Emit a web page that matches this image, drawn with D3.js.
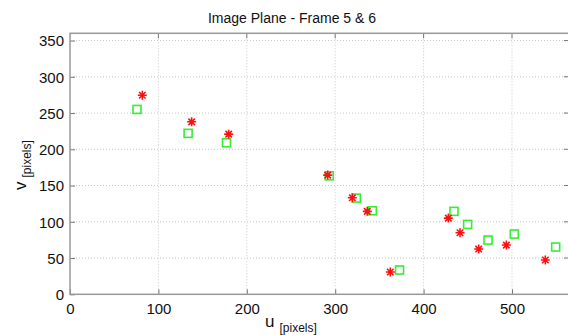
<!DOCTYPE html>
<html>
<head>
<meta charset="utf-8">
<script src="https://cdn.jsdelivr.net/npm/d3@7"></script>
<style>
    body { margin: 0; background: #fff; }
    svg { font-family: "Liberation Sans", Arial, sans-serif; }
</style>
</head>
<body>
<svg id="chart" width="568" height="335"></svg>
<script>
// frame 5 points (red asterisks)
var frame5U = [81.8, 137.6, 179.5, 291.5, 319.4, 336.3, 362.3, 428.0, 441.2, 462.3, 493.6, 537.7];
var frame5V = [274.6, 237.9, 220.9, 164.4, 133.1, 114.4, 30.7, 105.1, 84.9, 62.4, 67.9, 47.3];
// frame 6 points (green squares)
var frame6U = [75.8, 133.6, 177.0, 293.3, 323.9, 342.0, 372.8, 434.4, 449.8, 472.9, 502.6, 549.4];
var frame6V = [255.0, 222.0, 209.0, 163.4, 132.7, 115.2, 33.5, 114.4, 96.4, 74.8, 83.1, 65.2];

var xTicks = [0, 100, 200, 300, 400, 500];
var yTicks = [0, 50, 100, 150, 200, 250, 300, 350];

var svg = d3.select("#chart");

var plot = { left: 70, right: 570, top: 33.3, bottom: 294.3 };

var xScale = d3.scaleLinear()
    .domain([0, 500])
    .range([plot.left, 512]);

var yScale = d3.scaleLinear()
    .domain([0, 360])
    .range([plot.bottom, plot.top]);

// grid
var grid = svg.append("g").style("stroke", "#c8c8c8").style("stroke-dasharray", "1,2");
grid.selectAll(".gx").data(xTicks.slice(1)).enter().append("line")
    .attr("x1", function (d) { return xScale(d); })
    .attr("x2", function (d) { return xScale(d); })
    .attr("y1", plot.top).attr("y2", plot.bottom);
grid.selectAll(".gy").data(yTicks.slice(1)).enter().append("line")
    .attr("x1", plot.left).attr("x2", plot.right)
    .attr("y1", function (d) { return yScale(d); })
    .attr("y2", function (d) { return yScale(d); });

// axes, ticks inside
var xAxis = svg.append("g")
    .attr("transform", "translate(0," + plot.bottom + ")")
    .call(d3.axisBottom(xScale).tickValues(xTicks).tickSizeInner(-5).tickSizeOuter(0).tickPadding(9));
var yAxis = svg.append("g")
    .attr("transform", "translate(" + plot.left + ",0)")
    .call(d3.axisLeft(yScale).tickValues(yTicks).tickSizeInner(-5).tickSizeOuter(0).tickPadding(6));

[xAxis, yAxis].forEach(function (a) {
    a.select(".domain").remove();
    a.selectAll("line").attr("stroke", "#777");
    a.selectAll("text").attr("fill", "#111").style("font-size", "15px");
});
yAxis.selectAll("text").attr("dy", "0.36em");

// top and right ticks
svg.append("g").selectAll("line").data(xTicks.slice(1)).enter().append("line")
    .attr("x1", function (d) { return xScale(d); })
    .attr("x2", function (d) { return xScale(d); })
    .attr("y1", plot.top).attr("y2", plot.top + 5)
    .attr("stroke", "#777");
svg.append("g").selectAll("line").data(yTicks.slice(1)).enter().append("line")
    .attr("x1", plot.right - 6).attr("x2", plot.right)
    .attr("y1", function (d) { return yScale(d); })
    .attr("y2", function (d) { return yScale(d); })
    .attr("stroke", "#777");

// box
svg.append("rect")
    .attr("x", plot.left).attr("y", plot.top)
    .attr("width", plot.right - plot.left).attr("height", plot.bottom - plot.top)
    .attr("fill", "none").attr("stroke", "#999").attr("stroke-width", 1.5);

// title
svg.append("text")
    .attr("x", 292).attr("y", 23)
    .attr("text-anchor", "middle")
    .style("font-size", "14px").attr("fill", "#111")
    .text("Image Plane - Frame 5 & 6");

// axis labels
var xl = svg.append("text").attr("x", 265).attr("y", 327).attr("fill", "#111");
xl.append("tspan").style("font-size", "17px").text("u");
xl.append("tspan").attr("dx", 5).attr("dy", 5).style("font-size", "12px").text("[pixels]");

var yl = svg.append("text").attr("transform", "translate(26,190) rotate(-90)").attr("fill", "#111");
yl.append("tspan").style("font-size", "17px").text("v");
yl.append("tspan").attr("dx", 4).attr("dy", 5).style("font-size", "12px").text("[pixels]");

// frame 6 squares
var sq = 8;
svg.append("g").selectAll("rect").data(d3.range(frame6U.length)).enter().append("rect")
    .attr("x", function (i) { return xScale(frame6U[i]) - sq / 2; })
    .attr("y", function (i) { return yScale(frame6V[i]) - sq / 2; })
    .attr("width", sq).attr("height", sq)
    .attr("fill", "none").attr("stroke", "#33ee33").attr("stroke-width", 1.6);

// frame 5 asterisks
var r = 4.5, rd = r * 0.72;
var star = "M" + (-r) + ",0H" + r + "M0," + (-r) + "V" + r +
    "M" + (-rd) + "," + (-rd) + "L" + rd + "," + rd +
    "M" + (-rd) + "," + rd + "L" + rd + "," + (-rd);
svg.append("g").selectAll("path").data(d3.range(frame5U.length)).enter().append("path")
    .attr("transform", function (i) { return "translate(" + xScale(frame5U[i]) + "," + yScale(frame5V[i]) + ")"; })
    .attr("d", star)
    .attr("stroke", "#ff1010").attr("stroke-width", 1.6).attr("fill", "none");
</script>
</body>
</html>
